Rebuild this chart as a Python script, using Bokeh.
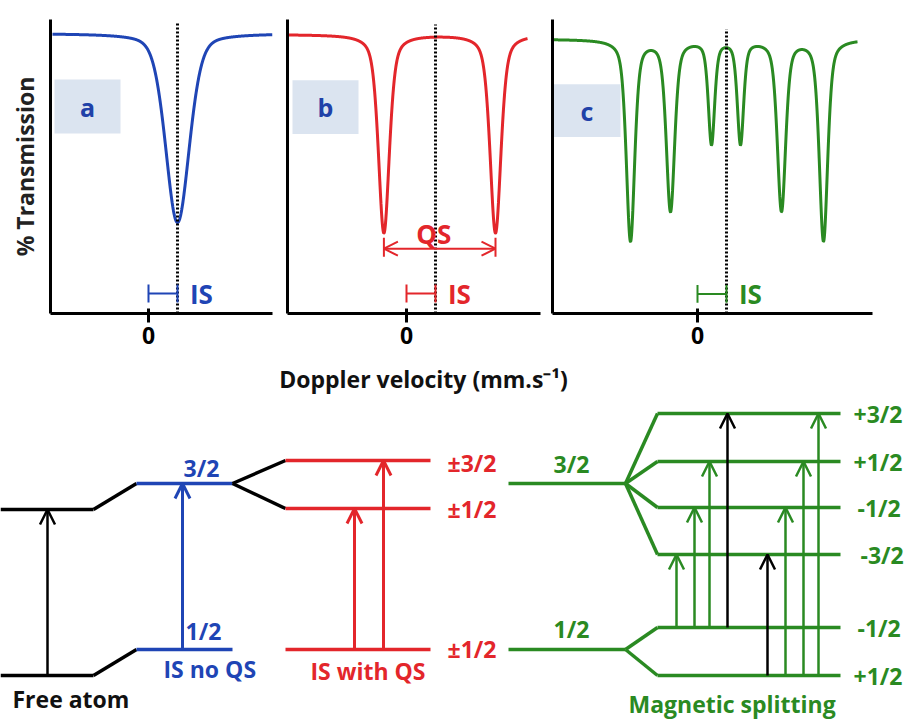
import numpy as np
from bokeh.plotting import figure
from bokeh.layouts import column, row
from bokeh.models import Range1d, FixedTicker, Arrow, OpenHead, ColumnDataSource
from bokeh.core.properties import value
from bokeh.embed import file_html
from bokeh.resources import INLINE

FONT = "Open Sans"
BLUE = "#1f45b5"
RED = "#e3262b"
GREEN = "#2a8a22"
BOXC = "#dbe4f0"
LETTER = "#2041a8"
FS = "23px"

# ---------------- spectra data (velocity in mm/s, transmission in %) ----------------
iso_shift = 1.45
a_centers = [1.45]
a_depths = [18.9]
a_fwhm = [1.4]
a_eta = 0.3

b_centers = [-1.13, 4.45]
b_depths = [19.9, 19.9]
b_fwhm = [0.65, 0.65]
b_eta = 0.5

c_centers = [-3.35, -1.35, 0.7, 2.15, 4.2, 6.3]
c_depths = [20.5, 17.4, 10.5, 10.5, 17.4, 20.5]
c_fwhm = [0.5, 0.5, 0.38, 0.38, 0.5, 0.5]
c_eta = 0.5

panel_letters = ["a", "b", "c"]
x_tick = [0]

# ---------------- energy level data (arbitrary energy units) ----------------
free_E = {"ground": 44, "excited": 210}
is_E = {"ground": 70, "excited": 236}
qs_E = {"ground": 70, "pm3/2": 259, "pm1/2": 211}
mag_unsplit = {"ground": 70, "excited": 236}
mag_excited = {"+3/2": 306, "+1/2": 258, "-1/2": 212, "-3/2": 165}
mag_ground = {"-1/2": 92, "+1/2": 44}


def profile(x, centers, depths, fwhm, eta):
    t = np.full_like(x, 100.0)
    for c, d, w in zip(centers, depths, fwhm):
        g = w / 2.0
        s = w / 2.3548
        L = 1.0 / (1.0 + ((x - c) / g) ** 2)
        G = np.exp(-((x - c) ** 2) / (2 * s * s))
        t -= d * (eta * L + (1 - eta) * G)
    return t


def panel(width, xr, ytop, bl, br, bt, letter, color, centers, depths, fwhm, eta, xcurve, box, ylabel=None):
    p = figure(width=width, height=355, x_range=Range1d(*xr), y_range=Range1d(72.0, ytop),
               output_backend="svg", toolbar_location=None,
               min_border_left=bl, min_border_right=br, min_border_top=bt, min_border_bottom=42)
    p.grid.visible = False
    p.outline_line_color = None
    p.xaxis.ticker = FixedTicker(ticks=x_tick)
    p.xaxis.axis_line_width = 3
    p.xaxis.major_tick_in = 5
    p.xaxis.major_tick_out = 9
    p.xaxis.major_tick_line_width = 3
    p.xaxis.minor_tick_in = 0
    p.xaxis.minor_tick_out = 0
    p.xaxis.major_label_text_font = FONT
    p.xaxis.major_label_text_font_style = "bold"
    p.xaxis.major_label_text_font_size = "23px"
    p.xaxis.major_label_text_color = "black"
    p.xaxis.major_label_standoff = 4
    p.yaxis.ticker = FixedTicker(ticks=[])
    p.yaxis.axis_line_width = 3
    p.yaxis.major_tick_out = 0
    p.yaxis.major_tick_in = 0
    p.yaxis.minor_tick_out = 0
    p.yaxis.minor_tick_in = 0
    if ylabel:
        p.yaxis.axis_label = ylabel
        p.yaxis.axis_label_text_font = FONT
        p.yaxis.axis_label_text_font_style = "bold"
        p.yaxis.axis_label_text_font_size = FS
        p.yaxis.axis_label_text_color = "#222222"
        p.yaxis.axis_label_standoff = 10
    # label box
    p.quad(left=[box[0]], right=[box[1]], bottom=[90.0], top=[95.4], fill_color=BOXC, line_color=None)
    p.text(x=[(box[0] + box[1]) / 2], y=[92.7], text=[letter], text_font=value(FONT),
           text_font_style="bold", text_font_size="25px", text_color=LETTER,
           text_align="center", text_baseline="middle")
    # spectrum
    x = np.linspace(xcurve[0], xcurve[1], 1500)
    p.line(x, profile(x, centers, depths, fwhm, eta), line_color=color, line_width=3)
    # isomer shift marker
    p.segment(x0=[iso_shift], y0=[72.0], x1=[iso_shift], y1=[101.0], line_color="black",
              line_width=3, line_dash="2 2")
    p.segment(x0=[0], y0=[74.0], x1=[iso_shift], y1=[74.0], line_color=color, line_width=2)
    p.segment(x0=[0, iso_shift], y0=[73.1, 73.1], x1=[0, iso_shift], y1=[74.9, 74.9],
              line_color=color, line_width=2)
    p.text(x=[iso_shift + 0.62], y=[74.0], text=["IS"], text_font=value(FONT),
           text_font_style="bold", text_font_size="26px", text_color=color,
           text_align="left", text_baseline="middle")
    return p


fa = panel(280, (-4.9, 6.2), 101.4, 50, 8, 19, panel_letters[0], BLUE,
           a_centers, a_depths, a_fwhm, a_eta, (-4.8, 6.2), (-4.7, -1.4), ylabel="% Transmission")
fb = panel(265, (-5.95, 6.7), 101.5, 7, 5, 18, panel_letters[1], RED,
           b_centers, b_depths, b_fwhm, b_eta, (-5.9, 6.05), (-5.7, -2.4))
fc = panel(359, (-7.25, 8.75), 102.0, 7, 32, 13, panel_letters[2], GREEN,
           c_centers, c_depths, c_fwhm, c_eta, (-7.2, 8.0), (-7.2, -3.85))

# QS arrow on panel b
qs_y = 78.5
fb.add_layout(Arrow(start=OpenHead(size=14, line_color=RED, line_width=2),
                    end=OpenHead(size=14, line_color=RED, line_width=2),
                    x_start=b_centers[0], y_start=qs_y, x_end=b_centers[1], y_end=qs_y,
                    line_color=RED, line_width=2))
fb.segment(x0=b_centers, y0=[77.7, 77.7], x1=b_centers, y1=[79.6, 79.6], line_color=RED, line_width=2)
fb.text(x=[(b_centers[0] + b_centers[1]) / 2 - 0.3], y=[80.0], text=["QS"], text_font=value(FONT),
        text_font_style="bold", text_font_size="26px", text_color=RED,
        text_align="center", text_baseline="middle")

# ---------------- energy level diagram ----------------
q = figure(width=904, height=364, x_range=Range1d(0, 904), y_range=Range1d(0, 364),
           output_backend="svg", toolbar_location=None, x_axis_type=None, y_axis_type=None,
           min_border=0)
q.grid.visible = False
q.outline_line_color = None

LW = 3.5
# column x-extents
free_x = (0, 93)
is_x = (136, 232)
qs_x = (285, 430)
mag_x = (508, 625)
split_x = (657, 840)

# free atom
q.segment(x0=[free_x[0]] * 2, x1=[free_x[1]] * 2, y0=[free_E["ground"], free_E["excited"]],
          y1=[free_E["ground"], free_E["excited"]], line_color="black", line_width=LW)
q.segment(x0=[free_x[1]] * 2, x1=[is_x[0]] * 2, y0=[free_E["ground"], free_E["excited"]],
          y1=[is_E["ground"], is_E["excited"]], line_color="black", line_width=LW)
# isomer shift
q.segment(x0=[is_x[0]] * 2, x1=[is_x[1]] * 2, y0=[is_E["ground"], is_E["excited"]],
          y1=[is_E["ground"], is_E["excited"]], line_color=BLUE, line_width=LW)
q.segment(x0=[is_x[1]] * 2, x1=[qs_x[0]] * 2, y0=[is_E["excited"]] * 2,
          y1=[qs_E["pm3/2"], qs_E["pm1/2"]], line_color="black", line_width=LW)
# quadrupole
q.segment(x0=[qs_x[0]] * 3, x1=[qs_x[1]] * 3, y0=[qs_E["ground"], qs_E["pm1/2"], qs_E["pm3/2"]],
          y1=[qs_E["ground"], qs_E["pm1/2"], qs_E["pm3/2"]], line_color=RED, line_width=LW)
# magnetic
q.segment(x0=[mag_x[0]] * 2, x1=[mag_x[1]] * 2, y0=[mag_unsplit["ground"], mag_unsplit["excited"]],
          y1=[mag_unsplit["ground"], mag_unsplit["excited"]], line_color=GREEN, line_width=LW)
ex_levels = list(mag_excited.values())
gr_levels = list(mag_ground.values())
q.segment(x0=[mag_x[1]] * 4, x1=[split_x[0]] * 4, y0=[mag_unsplit["excited"]] * 4,
          y1=ex_levels, line_color=GREEN, line_width=LW)
q.segment(x0=[mag_x[1]] * 2, x1=[split_x[0]] * 2, y0=[mag_unsplit["ground"]] * 2,
          y1=gr_levels, line_color=GREEN, line_width=LW)
q.segment(x0=[split_x[0]] * 6, x1=[split_x[1]] * 6, y0=ex_levels + gr_levels,
          y1=ex_levels + gr_levels, line_color=GREEN, line_width=LW)


def arrows(xs, y0s, y1s, color, lw):
    src = ColumnDataSource(dict(x=xs, y0=y0s, y1=y1s))
    q.add_layout(Arrow(end=OpenHead(size=15, line_color=color, line_width=lw),
                       x_start="x", y_start="y0", x_end="x", y_end="y1", source=src,
                       line_color=color, line_width=lw))


arrows([47], [free_E["ground"]], [free_E["excited"]], "black", 2.5)
arrows([182], [is_E["ground"]], [is_E["excited"]], BLUE, 3)
arrows([354, 383], [qs_E["ground"]] * 2, [qs_E["pm1/2"], qs_E["pm3/2"]], RED, 3)
arrows([676, 694, 709, 785, 803, 818],
       [mag_ground["-1/2"]] * 3 + [mag_ground["+1/2"]] * 3,
       [mag_excited["-3/2"], mag_excited["-1/2"], mag_excited["+1/2"],
        mag_excited["-1/2"], mag_excited["+1/2"], mag_excited["+3/2"]], GREEN, 2.5)
arrows([727, 767], [mag_ground["-1/2"], mag_ground["+1/2"]],
       [mag_excited["+3/2"], mag_excited["-3/2"]], "black", 2.5)


def labels(xs, ys, texts, color, align="left"):
    q.text(x=xs, y=ys, text=texts, text_font=value(FONT), text_font_style="bold",
           text_font_size=FS, text_color=color, text_align=align, text_baseline="middle")


labels([423], [341], ["Doppler velocity (mm.s\u207b\u00b9)"], "#111111", "center")
labels([12], [21], ["Free atom"], "#111111")
labels([183, 185, 163], [252, 89, 51], ["3/2", "1/2", "IS no QS"], BLUE)
labels([310], [49], ["IS with QS"], RED)
labels([447, 447, 447], [257, 211, 71], ["\u00b13/2", "\u00b11/2", "\u00b11/2"], RED)
labels([553, 553], [256, 91], ["3/2", "1/2"], GREEN)
labels([853, 853, 857, 860, 857, 853], ex_levels + gr_levels,
       ["+3/2", "+1/2", "-1/2", "-3/2", "-1/2", "+1/2"], GREEN)
labels([628], [16], ["Magnetic splitting"], GREEN)

layout = column(row(fa, fb, fc, spacing=0), q, spacing=0)
open("out.html", "w").write(file_html(layout, INLINE))
